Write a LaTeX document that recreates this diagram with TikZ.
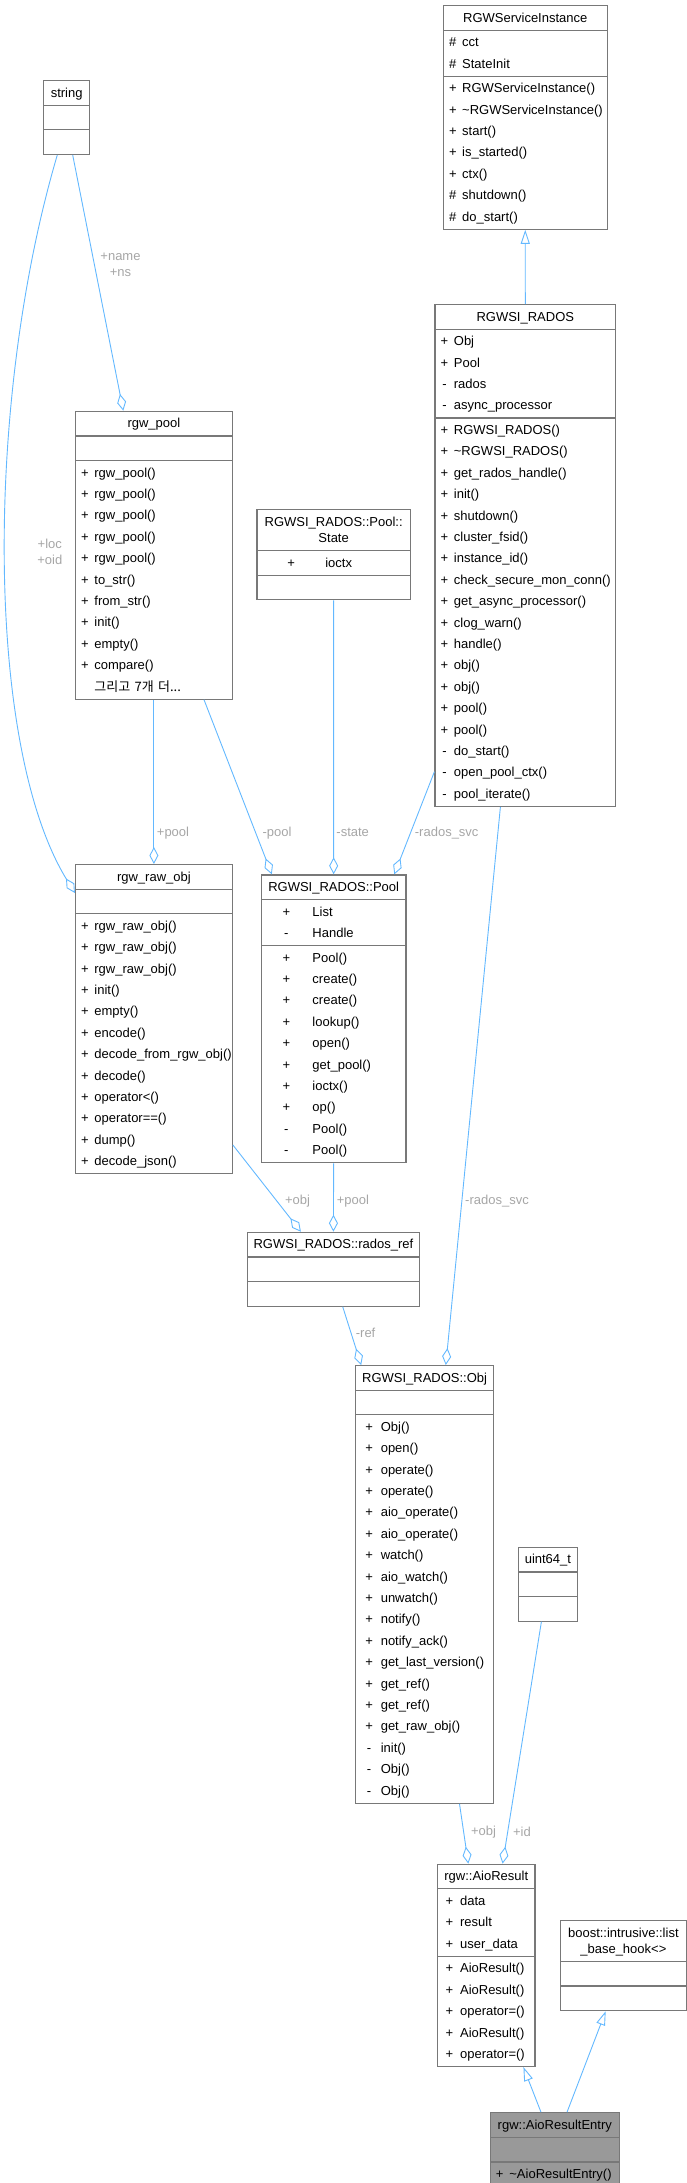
\documentclass[tikz,border=0pt]{standalone}
\usepackage{fontspec}
\setmainfont{Liberation Sans}
\newfontfamily\krfont{Noto Sans CJK KR}
\usepackage{xcolor}
\usepackage{tikz}
\usetikzlibrary{shapes.multipart,arrows.meta}

\definecolor{edgeblue}{HTML}{63B8FF}
\definecolor{labelgray}{HTML}{A6A6A6}
\definecolor{boxgray}{HTML}{787878}
\definecolor{focusgray}{HTML}{999999}

% member row: sign centred at \signc, name starting at \signn
\newcommand{\signc}{9.5pt}
\newcommand{\signn}{18.9pt}
\newcommand{\signcols}[2]{\renewcommand{\signc}{#1pt}\renewcommand{\signn}{#2pt}}
\newcommand{\mem}[2]{\strut\hspace*{\signc}\makebox[0pt]{#1}\hspace*{\dimexpr\signn-\signc\relax}\mbox{#2}}
% centred class name line
\newcommand{\hdr}[1]{\strut\hfill#1\hfill\strut}

\begin{document}
\begin{tikzpicture}[
    x=1pt, y=-1pt,
    umlclass/.style={rectangle split, rectangle split parts=3, draw=boxgray, line width=1.2pt, fill=white,
        anchor=north west, inner xsep=0pt, inner ysep=1pt, align=left, font=\fontsize{13pt}{21.4pt}\selectfont},
    focus/.style={umlclass, fill=focusgray},
    lbl/.style={font=\fontsize{13pt}{16pt}\selectfont, text=labelgray, align=center, inner sep=0pt},
    aggr/.style={draw=edgeblue, line width=0.9pt, {Diamond[open, length=17pt, width=9pt]}-},
    inherit/.style={draw=edgeblue, line width=0.9pt, -{Triangle[open, length=14pt, width=9pt]}},
]
    \useasboundingbox (0,0) rectangle (687,2183);

    % Top row
    \signcols{9.5}{18.9}
    \node[umlclass, text width=45.8pt] (string) at (43.2,80) {\hdr{string}
        \nodepart{second}\strut
        \nodepart{third}\strut};
    \node[umlclass, text width=163.9pt] (svcinst) at (442.7,5) {\hdr{RGWServiceInstance}
        \nodepart{second}\mem{\#}{cct}\\\mem{\#}{StateInit}
        \nodepart{third}\mem{+}{RGWServiceInstance()}\\\mem{+}{\textasciitilde RGWServiceInstance()}\\
        \mem{+}{start()}\\\mem{+}{is\_started()}\\\mem{+}{ctx()}\\\mem{\#}{shutdown()}\\\mem{\#}{do\_start()}};

    % RADOS service
    \node[umlclass, text width=180.6pt] (radossvc) at (434.4,304) {\hdr{RGWSI\_RADOS}
        \nodepart{second}\mem{+}{Obj}\\\mem{+}{Pool}\\\mem{-}{rados}\\\mem{-}{async\_processor}
        \nodepart{third}\mem{+}{RGWSI\_RADOS()}\\\mem{+}{\textasciitilde RGWSI\_RADOS()}\\
        \mem{+}{get\_rados\_handle()}\\\mem{+}{init()}\\\mem{+}{shutdown()}\\\mem{+}{cluster\_fsid()}\\
        \mem{+}{instance\_id()}\\\mem{+}{check\_secure\_mon\_conn()}\\\mem{+}{get\_async\_processor()}\\
        \mem{+}{clog\_warn()}\\\mem{+}{handle()}\\\mem{+}{obj()}\\\mem{+}{obj()}\\\mem{+}{pool()}\\
        \mem{+}{pool()}\\\mem{-}{do\_start()}\\\mem{-}{open\_pool\_ctx()}\\\mem{-}{pool\_iterate()}};

    % Pool and raw object
    \node[umlclass, text width=156.8pt] (rgwpool) at (74.9,410.7) {\hdr{rgw\_pool}
        \nodepart{second}\strut
        \nodepart{third}\mem{+}{rgw\_pool()}\\\mem{+}{rgw\_pool()}\\\mem{+}{rgw\_pool()}\\\mem{+}{rgw\_pool()}\\
        \mem{+}{rgw\_pool()}\\\mem{+}{to\_str()}\\\mem{+}{from\_str()}\\\mem{+}{init()}\\\mem{+}{empty()}\\
        \mem{+}{compare()}\\\strut\hspace*{\signn}{\krfont 그리고 7개 더...}};
    \node[umlclass, text width=156.8pt] (rawobj) at (74.9,864) {\hdr{rgw\_raw\_obj}
        \nodepart{second}\strut
        \nodepart{third}\mem{+}{rgw\_raw\_obj()}\\\mem{+}{rgw\_raw\_obj()}\\\mem{+}{rgw\_raw\_obj()}\\
        \mem{+}{init()}\\\mem{+}{empty()}\\\mem{+}{encode()}\\\mem{+}{decode\_from\_rgw\_obj()}\\
        \mem{+}{decode()}\\\mem{+}{operator<()}\\\mem{+}{operator==()}\\\mem{+}{dump()}\\\mem{+}{decode\_json()}};

    \signcols{34.1}{68.3}
    \node[umlclass, text width=153.3pt] (poolstate) at (256.4,509) {\hdr{RGWSI\_RADOS::Pool::}\\[-5pt]\hdr{State}
        \nodepart{second}\mem{+}{ioctx}
        \nodepart{third}\strut};

    \signcols{24.9}{51.1}
    \node[umlclass, text width=144.5pt] (pool) at (260.8,874.3) {\hdr{RGWSI\_RADOS::Pool}
        \nodepart{second}\mem{+}{List}\\\mem{-}{Handle}
        \nodepart{third}\mem{+}{Pool()}\\\mem{+}{create()}\\\mem{+}{create()}\\\mem{+}{lookup()}\\
        \mem{+}{open()}\\\mem{+}{get\_pool()}\\\mem{+}{ioctx()}\\\mem{+}{op()}\\\mem{-}{Pool()}\\\mem{-}{Pool()}};

    % Reference and object
    \node[umlclass, text width=171.4pt] (radosref) at (247.1,1231.7) {\hdr{RGWSI\_RADOS::rados\_ref}
        \nodepart{second}\strut
        \nodepart{third}\strut};

    \signcols{13.5}{25.2}
    \node[umlclass, text width=138pt] (obj) at (355,1365) {\hdr{RGWSI\_RADOS::Obj}
        \nodepart{second}\strut
        \nodepart{third}\mem{+}{Obj()}\\\mem{+}{open()}\\\mem{+}{operate()}\\\mem{+}{operate()}\\
        \mem{+}{aio\_operate()}\\\mem{+}{aio\_operate()}\\\mem{+}{watch()}\\\mem{+}{aio\_watch()}\\
        \mem{+}{unwatch()}\\\mem{+}{notify()}\\\mem{+}{notify\_ack()}\\\mem{+}{get\_last\_version()}\\
        \mem{+}{get\_ref()}\\\mem{+}{get\_ref()}\\\mem{+}{get\_raw\_obj()}\\\mem{-}{init()}\\
        \mem{-}{Obj()}\\\mem{-}{Obj()}};

    \node[umlclass, text width=59.4pt] (uint64) at (517.6,1546.7) {\hdr{uint64\_t}
        \nodepart{second}\strut
        \nodepart{third}\strut};

    % Result classes
    \signcols{11.7}{22.5}
    \node[umlclass, text width=97.4pt] (aioresult) at (437,1863.6) {\hdr{rgw::AioResult}
        \nodepart{second}\mem{+}{data}\\\mem{+}{result}\\\mem{+}{user\_data}
        \nodepart{third}\mem{+}{AioResult()}\\\mem{+}{AioResult()}\\\mem{+}{operator=()}\\
        \mem{+}{AioResult()}\\\mem{+}{operator=()}};

    \node[umlclass, text width=126.5pt] (listhook) at (559.5,1919.8) {\hdr{boost::intrusive::list}\\[-5pt]\hdr{\_base\_hook<>}
        \nodepart{second}\strut
        \nodepart{third}\strut};

    \signcols{9.2}{18.9}
    \node[focus, text width=128.6pt] (entry) at (489.9,2112.2) {\hdr{rgw::AioResultEntry}
        \nodepart{second}\strut
        \nodepart{third}\mem{+}{\textasciitilde AioResultEntry()}};

    % Inheritance
    \draw[inherit] (radossvc.north) -- (svcinst.south);
    \draw[inherit] ([xshift=51.1pt]entry.north west) -- ([xshift=86.4pt]aioresult.south west);
    \draw[inherit] ([xshift=77.1pt]entry.north west) -- ([xshift=46.2pt]listhook.south west);

    % Members
    \draw[aggr] ([xshift=48.4pt]rgwpool.north west) -- ([xshift=29.5pt]string.south west);
    \draw[aggr] ([yshift=-29pt]rawobj.north west) .. controls (-15,746) and (-15,400) .. ([xshift=14.1pt]string.south west);
    \draw[aggr] (rawobj.north) -- (rgwpool.south);
    \draw[aggr] ([xshift=11pt]pool.north west) -- ([xshift=129.1pt]rgwpool.south west);
    \draw[aggr] (pool.north) -- (poolstate.south);
    \draw[aggr] ([xshift=133.5pt]pool.north west) -- ([yshift=-467.7pt]radossvc.north west);
    \draw[aggr] ([xshift=90.8pt]obj.north west) -- ([xshift=66pt]radossvc.south west);
    \draw[aggr] ([xshift=53.8pt]radosref.north west) -- ([yshift=-281pt]rawobj.north east);
    \draw[aggr] (radosref.north) -- (pool.south);
    \draw[aggr] ([xshift=6.2pt]obj.north west) -- ([xshift=95.6pt]radosref.south west);
    \draw[aggr] ([xshift=31.3pt]aioresult.north west) -- ([xshift=104.5pt]obj.south west);
    \draw[aggr] ([xshift=65.6pt]aioresult.north west) -- ([xshift=23.8pt]uint64.south west);

    % Labels
    \node[lbl] (lname) at (120.5,264.7) {+name\\+ns};
    \node[lbl] (lloc) at (49.8,552.3) {+loc\\+oid};
    \node[lbl] (lpoolA) at (173,832.7) {+pool};
    \node[lbl] (lpoolB) at (277,832.7) {-pool};
    \node[lbl] (lstate) at (352.7,832.7) {-state};
    \node[lbl] (lsvcA) at (446.7,832.7) {-rados\_svc};
    \node[lbl] (lobjA) at (297.6,1200.7) {+obj};
    \node[lbl] (lpoolC) at (352.9,1200.7) {+pool};
    \node[lbl] (lsvcB) at (497,1200.7) {-rados\_svc};
    \node[lbl] (lref) at (365.6,1333.3) {-ref};
    \node[lbl] (lobjB) at (483.5,1831.7) {+obj};
    \node[lbl] (lid) at (522,1831.7) {+id};
\end{tikzpicture}
\end{document}
